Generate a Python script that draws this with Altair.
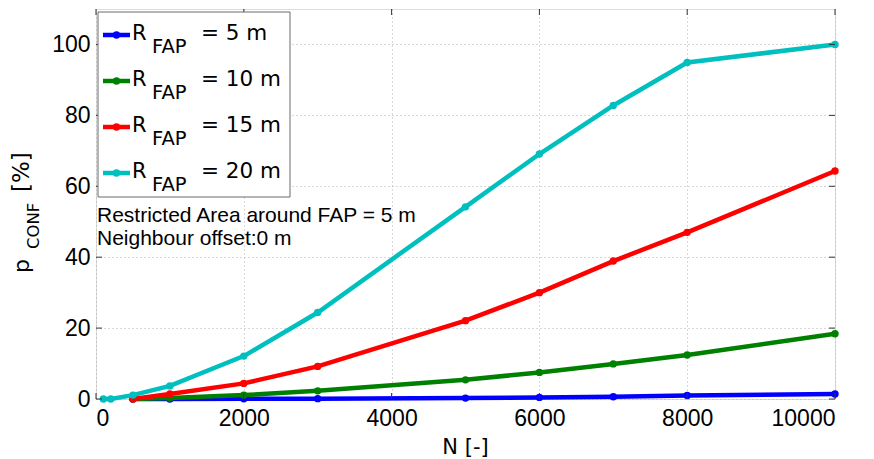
import altair as alt
import pandas as pd

# ---- data ----
N_20 = [100, 200, 500, 1000, 2000, 3000, 5000, 6000, 7000, 8000, 10000]
P_20 = [0.0, 0.0, 1.1, 3.7, 12.1, 24.4, 54.2, 69.1, 82.8, 94.9, 100.0]
N_rest = [500, 1000, 2000, 3000, 5000, 6000, 7000, 8000, 10000]
P_15 = [0.0, 1.4, 4.4, 9.2, 22.1, 30.0, 38.9, 47.0, 64.3]
P_10 = [0.0, 0.3, 1.1, 2.3, 5.4, 7.5, 9.9, 12.4, 18.4]
P_5 = [0.0, 0.0, 0.05, 0.1, 0.25, 0.45, 0.65, 1.0, 1.4]

radii = ["5", "10", "15", "20"]
colors = ["#0000FF", "#008000", "#FF0000", "#00BFBF"]
x_ticks = [0, 2000, 4000, 6000, 8000, 10000]
y_ticks = [0, 20, 40, 60, 80, 100]
note_lines = ["Restricted Area around FAP = 5 m", "Neighbour offset:0 m"]

FONT = "Liberation Sans"
TEX = "DejaVu Sans"
W, H = 739, 390

series = [
    (N_rest, P_5),
    (N_rest, P_10),
    (N_rest, P_15),
    (N_20, P_20),
]

axis_common = dict(title=None, labelFontSize=23, labelColor="black", labelFont=FONT,
                   format="d", grid=True, gridDash=[1, 3], gridColor="#b0b0b0",
                   ticks=False, domain=False)
xenc = alt.X("N:Q", scale=alt.Scale(domain=[0, 10000], nice=False, zero=False),
             axis=alt.Axis(values=x_ticks, labelPadding=8, **axis_common))
yenc = alt.Y("p:Q", scale=alt.Scale(domain=[0, 110], nice=False, zero=False),
             axis=alt.Axis(values=y_ticks, labelPadding=6, **axis_common))

layers = []
for (nx, py), c in zip(series, colors):
    df = pd.DataFrame({"N": nx, "p": py})
    base = alt.Chart(df)
    layers.append(base.mark_line(color=c, strokeWidth=4.5).encode(x=xenc, y=yenc))
    layers.append(base.mark_circle(color=c, size=55, opacity=1).encode(x=xenc, y=yenc))

one = pd.DataFrame({"a": [0]})

# inward ticks (MATLAB style box)
xt = alt.Chart(pd.DataFrame({"N": x_ticks}))
yt = alt.Chart(pd.DataFrame({"p": y_ticks}))
layers.append(xt.mark_rule(color="#333333").encode(x=xenc, y=alt.value(H), y2=alt.value(H - 6)))
layers.append(xt.mark_rule(color="#333333").encode(x=xenc, y=alt.value(0), y2=alt.value(6)))
layers.append(yt.mark_rule(color="#333333").encode(y=yenc, x=alt.value(0), x2=alt.value(6)))
layers.append(yt.mark_rule(color="#333333").encode(y=yenc, x=alt.value(W), x2=alt.value(W - 6)))

# legend box
layers.append(alt.Chart(one).mark_rect(fill="white", stroke="#6b6b6b", strokeWidth=1).encode(
    x=alt.value(2), x2=alt.value(194), y=alt.value(3), y2=alt.value(188)))
for i, (r, c) in enumerate(zip(radii, colors)):
    yc = 26 + i * 46
    layers.append(alt.Chart(one).mark_rule(color=c, strokeWidth=4.5).encode(
        x=alt.value(7), x2=alt.value(34), y=alt.value(yc)))
    layers.append(alt.Chart(one).mark_circle(color=c, size=55, opacity=1).encode(
        x=alt.value(20.5), y=alt.value(yc)))
    layers.append(alt.Chart(one).mark_text(align="left", baseline="alphabetic", fontSize=21,
                                           font=TEX, color="black").encode(
        x=alt.value(36), y=alt.value(yc + 5), text=alt.value("R")))
    layers.append(alt.Chart(one).mark_text(align="left", baseline="alphabetic", fontSize=19.5,
                                           font=TEX, color="black").encode(
        x=alt.value(56), y=alt.value(yc + 18), text=alt.value("FAP")))
    layers.append(alt.Chart(one).mark_text(align="left", baseline="alphabetic", fontSize=21.5,
                                           font=TEX, color="black").encode(
        x=alt.value(105), y=alt.value(yc + 5), text=alt.value(f"= {r} m")))

# annotation
for i, t in enumerate(note_lines):
    layers.append(alt.Chart(one).mark_text(align="left", baseline="alphabetic", fontSize=21,
                                           font=FONT, color="black").encode(
        x=alt.value(1), y=alt.value(212.5 + i * 23), text=alt.value(t)))

# x title
layers.append(alt.Chart(one).mark_text(align="center", baseline="alphabetic", fontSize=21,
                                       font=TEX, color="black").encode(
    x=alt.value(W / 2), y=alt.value(445), text=alt.value("N [-]")))

# y title: p_CONF [%]
layers.append(alt.Chart(one).mark_text(align="left", baseline="alphabetic", fontSize=22, angle=270,
                                       font=TEX, color="black").encode(
    x=alt.value(-67), y=alt.value(264), text=alt.value("p")))
layers.append(alt.Chart(one).mark_text(align="left", baseline="alphabetic", fontSize=16.5, angle=270,
                                       font=TEX, color="black").encode(
    x=alt.value(-57.5), y=alt.value(240), text=alt.value("CONF")))
layers.append(alt.Chart(one).mark_text(align="left", baseline="alphabetic", fontSize=23, angle=270,
                                       font=TEX, color="black").encode(
    x=alt.value(-67), y=alt.value(183), text=alt.value("[%]")))

chart = alt.layer(*layers).properties(
    width=W, height=H,
    padding={"left": 96, "top": 9, "right": 39, "bottom": 60},
    autosize=alt.AutoSizeParams(type="none"),
).configure_view(stroke="#555555", strokeWidth=1).configure(background="white")

chart.save("out.html", embed_options={"renderer": "svg", "actions": False})
